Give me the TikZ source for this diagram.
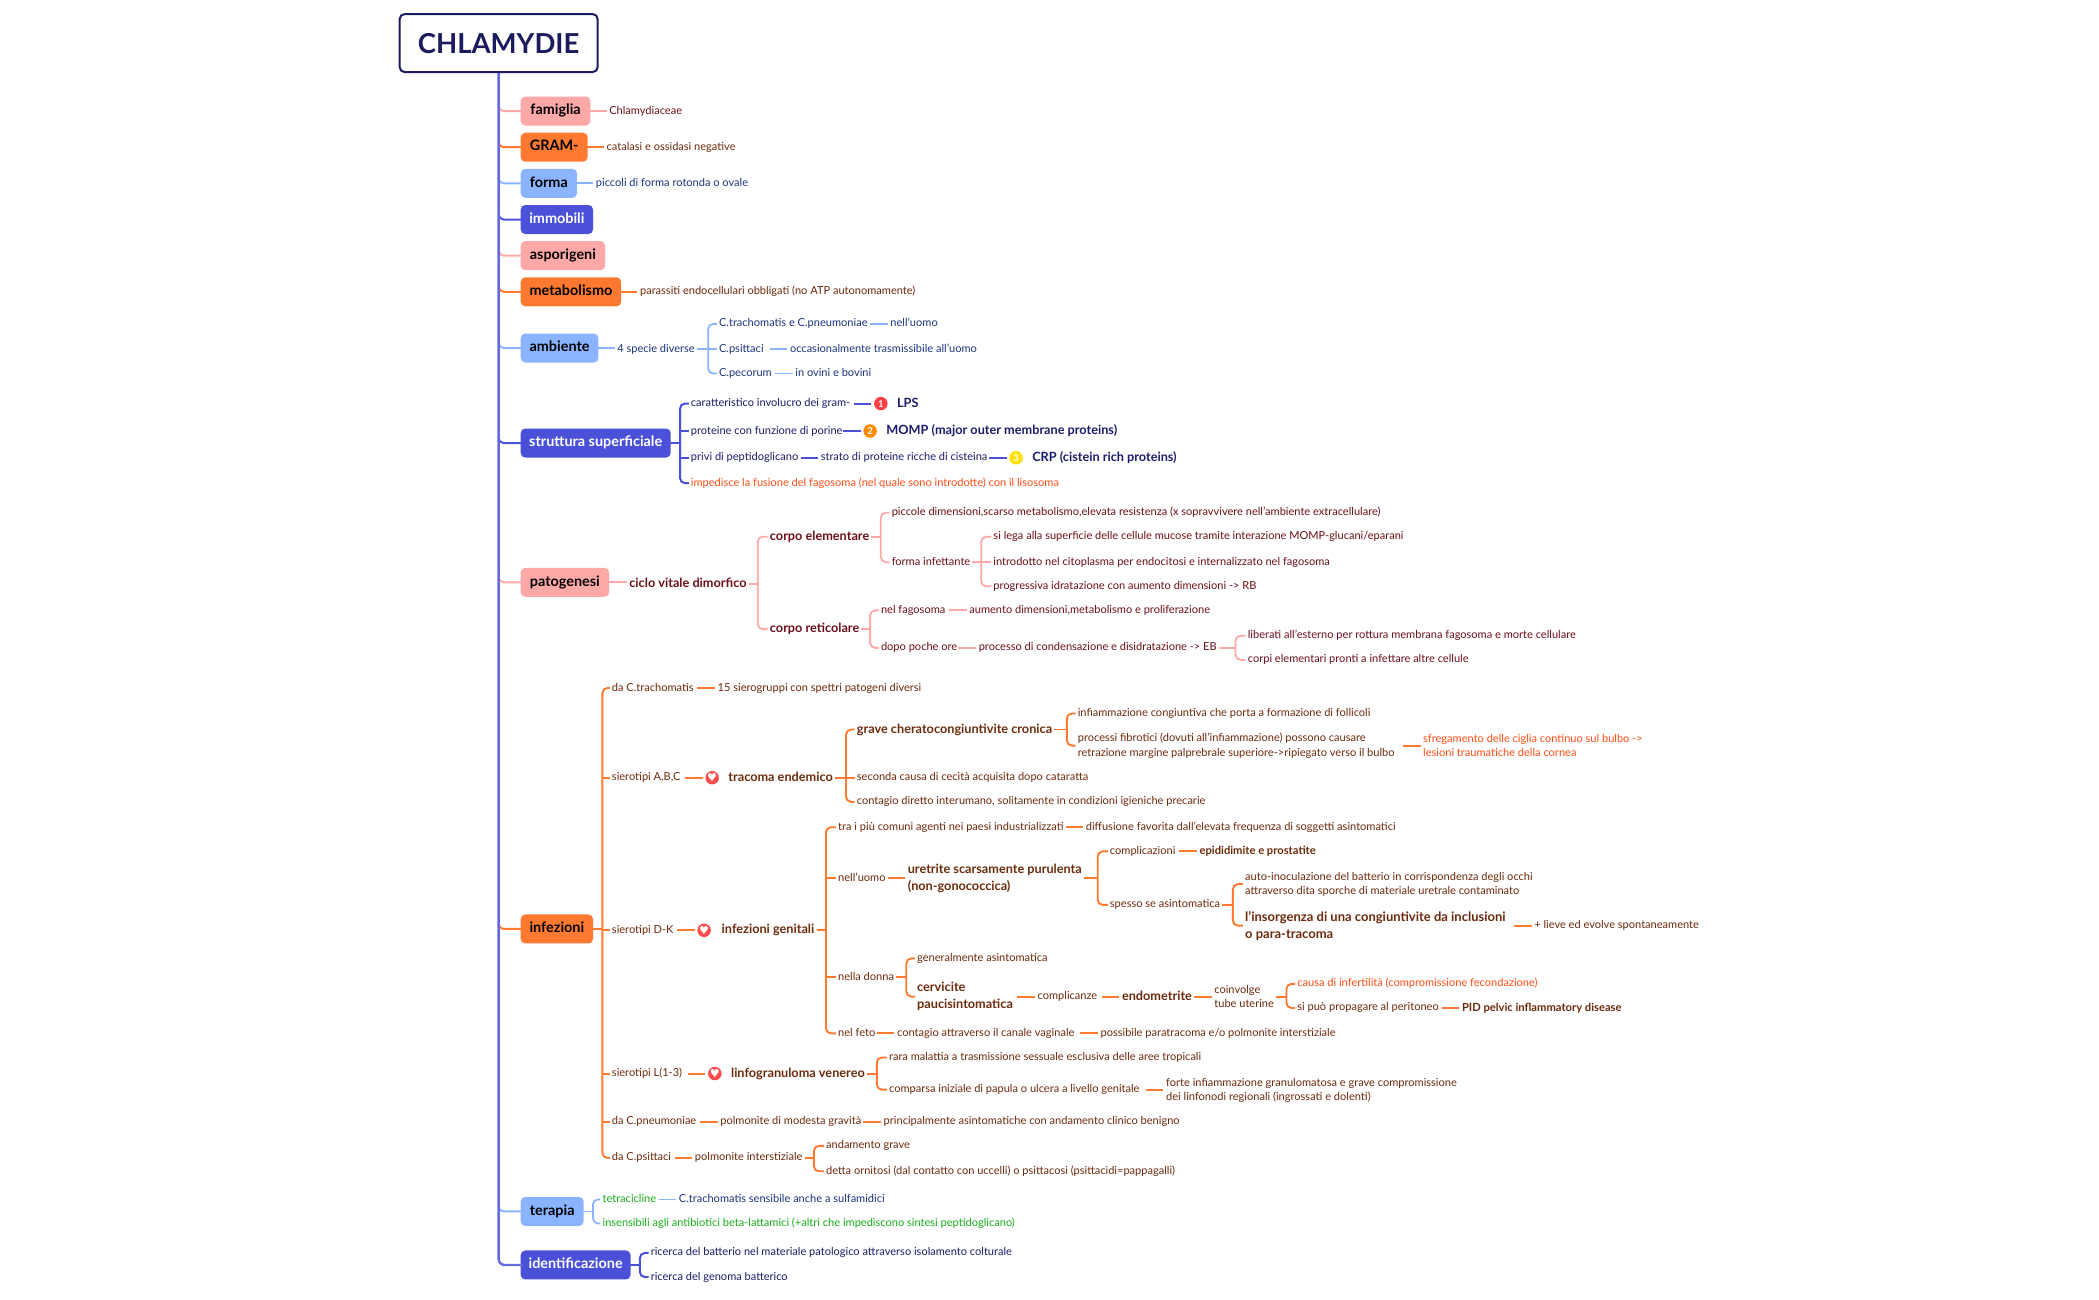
\documentclass[tikz,border=0pt]{standalone}
\usepackage{fontspec}
\setmainfont{Lato}
\newfontfamily\djv{DejaVu Sans}
\definecolor{cPink}{HTML}{FFA8A8}
\definecolor{cOrange}{HTML}{FF7A30}
\definecolor{cBlue}{HTML}{8AB4FF}
\definecolor{cIndigo}{HTML}{4A50D8}
\definecolor{cNavy}{HTML}{1B1B5E}
\definecolor{tDR}{HTML}{6B0F1A}
\definecolor{tBR}{HTML}{6B2A0B}
\definecolor{tBL}{HTML}{1C3480}
\definecolor{tIN}{HTML}{1B1B6B}
\definecolor{tAL}{HTML}{FF4D14}
\definecolor{tGR}{HTML}{18AD18}
\tikzset{
  x=1.3387pt,y=-1.3387pt,
  txt/.style={anchor=west,inner sep=0pt,text height=8.5pt,text depth=2.5pt,font=\fontsize{11.05}{14.5}\selectfont},
  mtxt/.style={anchor=west,inner sep=0pt,align=left,font=\fontsize{11.05}{14.3}\selectfont},
  bld/.style={anchor=west,inner sep=0pt,text height=9.5pt,text depth=2.5pt,font=\fontsize{12.7}{16}\bfseries\selectfont},
  mbld/.style={anchor=west,inner sep=0pt,align=left,font=\fontsize{12.7}{16.8}\bfseries\selectfont},
  mbldL/.style={anchor=west,inner sep=0pt,align=left,font=\fontsize{13}{17}\bfseries\selectfont},
  lPink/.style={draw=cPink,line width=1.8pt},
  lOrange/.style={draw=cOrange,line width=1.9pt},
  lBlue/.style={draw=cBlue,line width=1.8pt},
  lIndigo/.style={draw=cIndigo,line width=2pt},
  boxn/.style={anchor=west,rounded corners=4.5pt,minimum height=29pt,inner sep=0pt,outer sep=-2.5pt,
     font=\fontsize{14.4}{16}\bfseries\selectfont,text height=10.5pt,text depth=3pt},
  icon/.style={circle,inner sep=0pt,minimum size=13.5pt,text=white,font=\fontsize{9.5}{9.5}\bfseries\selectfont},
  hearticon/.style={icon,fill=#1,font=\djv\fontsize{11}{11}\selectfont},
}
\newcommand{\Tx}[5][txt]{\node[#1,text=#2] (#3) at (#4) {#5};}
\newcommand{\Bx}[6]{\pgfmathsetmacro{\bw}{(#4-389)*1.3387}\node[boxn,fill=#1,text=#2,minimum width=\bw pt] (#3) at (390.87,#5) {#6};}
\newcommand{\Cn}[3]{\path (#2.east -| #3.west) coordinate (ce) ++(-15,0) coordinate (cs);
  \draw[#1,shorten >=2.5pt] (cs) -- (ce);}
\newcommand{\Bc}[3]{\draw[#1,shorten >=2.5pt] (#2.east) -- (#2.east -| #3.west);}
\newcommand{\Br}[5]{\coordinate (spn) at (#3,0);
  \draw[#1,shorten <=2pt] (#2.east) -- (#2.east -| spn);
  \draw[#1,rounded corners=5pt,shorten <=2pt,shorten >=2pt] (#4.west) -| (#2.east -| spn) |- (#5.west);}
\newcommand{\Md}[2]{\draw[#1,shorten >=2pt] (#2.west -| spn) -- (#2.west);}
\newcommand{\Lf}[2]{\path (#2.west -| root.south) ++(0,-5) coordinate (lf#2);
  \draw[#1,rounded corners=5pt,line width=2pt] (lf#2) |- (#2.west);}
\begin{document}
\begin{tikzpicture}
\useasboundingbox (0,0) rectangle (1568,971);
\begin{scope}[yshift=-1.3pt]
\node[draw=cNavy,line width=2pt,rounded corners=5pt,fill=white,text=cNavy,minimum width=198pt,minimum height=58pt,inner sep=0pt,font=\fontsize{27.5}{30}\bfseries\selectfont] (root) at (372.5,31.2) {CHLAMYDIE};
% top-level boxes
\Bx{cPink}{black}{famiglia}{441}{82}{famiglia}
\Bx{cOrange}{black}{gram}{439}{109}{GRAM-}
\Bx{cBlue}{black}{forma}{431}{136}{forma}
\Bx{cIndigo}{white}{immobili}{443}{163}{immobili}
\Bx{cPink}{black}{aspor}{452}{190}{asporigeni}
\Bx{cOrange}{black}{metab}{464}{217}{metabolismo}
\Bx{cBlue}{black}{ambiente}{447}{259}{ambiente}
\Bx{cIndigo}{white}{strutt}{501}{330}{struttura superficiale}
\Bx{cPink}{black}{patog}{455}{434}{patogenesi}
\Bx{cOrange}{black}{infez}{443}{693}{infezioni}
\Bx{cBlue}{black}{terapia}{436}{904}{terapia}
\Bx{cIndigo}{white}{identif}{471}{944}{identificazione}
% leaves from the trunk
\Lf{lPink}{famiglia}\Lf{lOrange}{gram}\Lf{lBlue}{forma}\Lf{lIndigo}{immobili}\Lf{lPink}{aspor}\Lf{lOrange}{metab}
\Lf{lBlue}{ambiente}\Lf{lIndigo}{strutt}\Lf{lPink}{patog}\Lf{lOrange}{infez}\Lf{lBlue}{terapia}
\draw[draw=cIndigo!85!white,line width=2.4pt,rounded corners=6pt] (root.south) |- (identif.west);
% simple branches
\Tx{tDR}{chlam}{455,82}{Chlamydiaceae}\Cn{lPink}{famiglia}{chlam}
\Tx{tBR}{catal}{453,109}{catalasi e ossidasi negative}\Cn{lOrange}{gram}{catal}
\Tx{tBL}{picc}{445,136}{piccoli di forma rotonda o ovale}\Cn{lBlue}{forma}{picc}
\Tx{tBR}{paras}{478,217}{parassiti endocellulari obbligati (no ATP autonomamente)}\Cn{lOrange}{metab}{paras}
% ambiente
\Tx{tBL}{quattro}{461,260}{4 specie diverse}\Cn{lBlue}{ambiente}{quattro}
\Tx{tBL}{ctr}{537,241}{C.trachomatis e C.pneumoniae}
\Tx{tBL}{nelluomoA}{665,241}{nell'uomo}\Cn{lBlue}{ctr}{nelluomoA}
\Tx{tBL}{cps}{537,260}{C.psittaci}
\Tx{tBL}{occas}{590,260}{occasionalmente trasmissibile all'uomo}\Cn{lBlue}{cps}{occas}
\Tx{tBL}{cpe}{537,278}{C.pecorum}
\Tx{tBL}{ovini}{594,278}{in ovini e bovini}\Cn{lBlue}{cpe}{ovini}
\Br{lBlue}{quattro}{529}{ctr}{cpe}\Md{lBlue}{cps}
% struttura
\Tx{tIN}{car}{516,300.5}{caratteristico involucro dei gram-}
\node[icon,fill=red!75!white] (icoA) at (658,300.5) {1};
\Tx[bld]{tIN}{lps}{670,300.5}{LPS}\Cn{lIndigo}{car}{icoA}
\Tx{tIN}{pro}{516,321}{proteine con funzione di porine}
\node[icon,fill=orange!90!yellow] (icoB) at (650,321) {2};
\Tx[bld]{tIN}{momp}{662,321}{MOMP (major outer membrane proteins)}\Cn{lIndigo}{pro}{icoB}
\Tx{tIN}{pri}{516,341}{privi di peptidoglicano}
\Tx{tIN}{str}{613,341}{strato di proteine ricche di cisteina}\Cn{lIndigo}{pri}{str}
\node[icon,fill=yellow!85!orange] (icoC) at (759,341) {3};
\Tx[bld]{tIN}{crp}{771,341}{CRP (cistein rich proteins)}\Cn{lIndigo}{str}{icoC}
\Tx{tAL}{imp}{516,360}{impedisce la fusione del fagosoma (nel quale sono introdotte) con il lisosoma}
\Br{lIndigo}{strutt}{508}{car}{imp}\Md{lIndigo}{pro}\Md{lIndigo}{pri}
% patogenesi
\Tx[bld]{tDR}{ciclo}{470,435}{ciclo vitale dimorfico}\Cn{lPink}{patog}{ciclo}
\Tx[bld]{tDR}{cel}{575,400}{corpo elementare}
\Tx[bld]{tDR}{cre}{575,469}{corpo reticolare}
\Br{lPink}{ciclo}{566}{cel}{cre}
\Tx{tDR}{pdim}{666,382}{piccole dimensioni,scarso metabolismo,elevata resistenza (x sopravvivere nell'ambiente extracellulare)}
\Tx{tDR}{finf}{666,419}{forma infettante}
\Br{lPink}{cel}{658}{pdim}{finf}
\Tx{tDR}{sil}{742,400}{si lega alla superficie delle cellule mucose tramite interazione MOMP-glucani/eparani}
\Tx{tDR}{intr}{742,419}{introdotto nel citoplasma per endocitosi e internalizzato nel fagosoma}
\Tx{tDR}{prog}{742,437}{progressiva idratazione con aumento dimensioni -> RB}
\Br{lPink}{finf}{733}{sil}{prog}\Md{lPink}{intr}
\Tx{tDR}{nfag}{658,455}{nel fagosoma}
\Tx{tDR}{aum}{724,455}{aumento dimensioni,metabolismo e proliferazione}\Cn{lPink}{nfag}{aum}
\Tx{tDR}{dop}{658,483}{dopo poche ore}
\Tx{tDR}{proc}{731,483}{processo di condensazione e disidratazione -> EB}\Cn{lPink}{dop}{proc}
\Br{lPink}{cre}{650}{nfag}{dop}
\Tx{tDR}{lib}{932,474}{liberati all'esterno per rottura membrana fagosoma e morte cellulare}
\Tx{tDR}{cpi}{932,492}{corpi elementari pronti a infettare altre cellule}
\Br{lPink}{proc}{923}{lib}{cpi}
% infezioni
\Tx{tBR}{dctr}{457,513}{da C.trachomatis}
\Tx{tBR}{quin}{536,513}{15 sierogruppi con spettri patogeni diversi}\Cn{lOrange}{dctr}{quin}
\Tx{tBR}{sabc}{457,580}{sierotipi A,B,C}
\node[hearticon=red!70!white] (hA) at (532,580) {♥};
\Tx[bld]{tBR}{trac}{544,580}{tracoma endemico}\Cn{lOrange}{sabc}{hA}
\Tx[bld]{tBR}{grave}{640,544}{grave cheratocongiuntivite cronica}
\Tx{tBR}{sec}{640,580}{seconda causa di cecità acquisita dopo cataratta}
\Tx{tBR}{cont}{640,598}{contagio diretto interumano, solitamente in condizioni igieniche precarie}
\Br{lOrange}{trac}{632}{grave}{cont}\Md{lOrange}{sec}
\Tx{tBR}{inf}{805,532}{infiammazione congiuntiva che porta a formazione di follicoli}
\Tx[mtxt]{tBR}{fib}{805,556}{processi fibrotici (dovuti all'infiammazione) possono causare\\retrazione margine palprebrale superiore->ripiegato verso il bulbo}
\Br{lOrange}{grave}{797}{inf}{fib}
\Tx[mtxt]{tAL}{sfr}{1063,556}{sfregamento delle ciglia continuo sul bulbo ->\\lesioni traumatiche della cornea}\Cn{lOrange}{fib}{sfr}
\Tx{tBR}{sdk}{457,694}{sierotipi D-K}
\node[hearticon=red!70!white] (hB) at (526,694) {♥};
\Tx[bld]{tBR}{igen}{539,694}{infezioni genitali}\Cn{lOrange}{sdk}{hB}
\Tx{tBR}{tra}{626,617}{tra i più comuni agenti nei paesi industrializzati}
\Tx{tBR}{dif}{811,617}{diffusione favorita dall'elevata frequenza di soggetti asintomatici}\Cn{lOrange}{tra}{dif}
\Tx{tBR}{nuo}{626,655}{nell'uomo}
\Tx[mbld]{tBR}{ure}{678,655}{uretrite scarsamente purulenta\\(non-gonococcica)}\Cn{lOrange}{nuo}{ure}
\Tx{tBR}{compl}{829,635}{complicazioni}
\Tx[bld]{tBR}{epi}{896,635}{\fontsize{11.2}{14}\selectfont epididimite e prostatite}\Cn{lOrange}{compl}{epi}
\Tx{tBR}{spe}{829,675}{spesso se asintomatica}
\Br{lOrange}{ure}{820}{compl}{spe}
\Tx[mtxt]{tBR}{aut}{930,659.5}{auto-inoculazione del batterio in corrispondenza degli occhi\\attraverso dita sporche di materiale uretrale contaminato}
\Tx[mbldL]{tBR}{lin}{930,690.5}{l'insorgenza di una congiuntivite da inclusioni\\o para-tracoma}
\Br{lOrange}{spe}{921}{aut}{lin}
\Tx{tBR}{lie}{1146,690.5}{+ lieve ed evolve spontaneamente}\Cn{lOrange}{lin}{lie}
\Tx{tBR}{ndo}{626,729}{nella donna}
\Tx{tBR}{gen}{685,715}{generalmente asintomatica}
\Tx[mbld]{tBR}{cer}{685,743.5}{cervicite\\paucisintomatica}
\Br{lOrange}{ndo}{677}{gen}{cer}
\Tx{tBR}{cpz}{775,743.5}{complicanze}\Cn{lOrange}{cer}{cpz}
\Tx[bld]{tBR}{end}{838,743.5}{endometrite}\Cn{lOrange}{cpz}{end}
\Tx[mtxt]{tBR}{coi}{907,743.5}{coinvolge\\tube uterine}\Cn{lOrange}{end}{coi}
\Tx{tAL}{cau}{969,734}{causa di infertilità (compromissione fecondazione)}
\Tx{tBR}{sip}{969,752}{si può propagare al peritoneo}
\Br{lOrange}{coi}{961}{cau}{sip}
\Tx[bld]{tBR}{pid}{1092,752}{\fontsize{11.2}{14}\selectfont PID pelvic inflammatory disease}\Cn{lOrange}{sip}{pid}
\Tx{tBR}{nfe}{626,771}{nel feto}
\Tx{tBR}{cva}{670,771}{contagio attraverso il canale vaginale}\Cn{lOrange}{nfe}{cva}
\Tx{tBR}{pos}{822,771}{possibile paratracoma e/o polmonite interstiziale}\Cn{lOrange}{cva}{pos}
\Br{lOrange}{igen}{617}{tra}{nfe}\Md{lOrange}{nuo}\Md{lOrange}{ndo}
\Tx{tBR}{slx}{457,801}{sierotipi L(1-3)}
\node[hearticon=red!70!white] (hC) at (534,801) {♥};
\Tx[bld]{tBR}{lin2}{546,801}{linfogranuloma venereo}\Cn{lOrange}{slx}{hC}
\Tx{tBR}{rar}{664,789}{rara malattia a trasmissione sessuale esclusiva delle aree tropicali}
\Tx{tBR}{cmp}{664,813}{comparsa iniziale di papula o ulcera a livello genitale}
\Br{lOrange}{lin2}{655}{rar}{cmp}
\Tx[mtxt]{tBR}{for}{871,813.5}{forte infiammazione granulomatosa e grave compromissione\\dei linfonodi regionali (ingrossati e dolenti)}\Cn{lOrange}{cmp}{for}
\Tx{tBR}{dcp}{457,837}{da C.pneumoniae}
\Tx{tBR}{pmg}{538,837}{polmonite di modesta gravità}\Cn{lOrange}{dcp}{pmg}
\Tx{tBR}{pri2}{660,837}{principalmente asintomatiche con andamento clinico benigno}\Cn{lOrange}{pmg}{pri2}
\Tx{tBR}{dcs}{457,864}{da C.psittaci}
\Tx{tBR}{pin}{519,864}{polmonite interstiziale}\Cn{lOrange}{dcs}{pin}
\Tx{tBR}{agr}{617,855}{andamento grave}
\Tx{tBR}{det}{617,874}{detta ornitosi (dal contatto con uccelli) o psittacosi (psittacidi=pappagalli)}
\Br{lOrange}{pin}{608}{agr}{det}
\Br{lOrange}{infez}{450}{dctr}{dcs}\Md{lOrange}{sabc}\Md{lOrange}{sdk}\Md{lOrange}{slx}\Md{lOrange}{dcp}
% terapia
\Tx{tGR}{tet}{450,895}{tetracicline}
\Tx{tBL}{ctsu}{507,895}{C.trachomatis sensibile anche a sulfamidici}\Cn{lBlue}{tet}{ctsu}
\Tx{tGR}{ins}{450,913}{insensibili agli antibiotici beta-lattamici (+altri che impediscono sintesi peptidoglicano)}
\Br{lBlue}{terapia}{443}{tet}{ins}
% identificazione
\Tx{tIN}{rba}{486,935}{ricerca del batterio nel materiale patologico attraverso isolamento colturale}
\Tx{tIN}{rge}{486,953}{ricerca del genoma batterico}
\Br{lIndigo}{identif}{478}{rba}{rge}
\end{scope}
\end{tikzpicture}
\end{document}
